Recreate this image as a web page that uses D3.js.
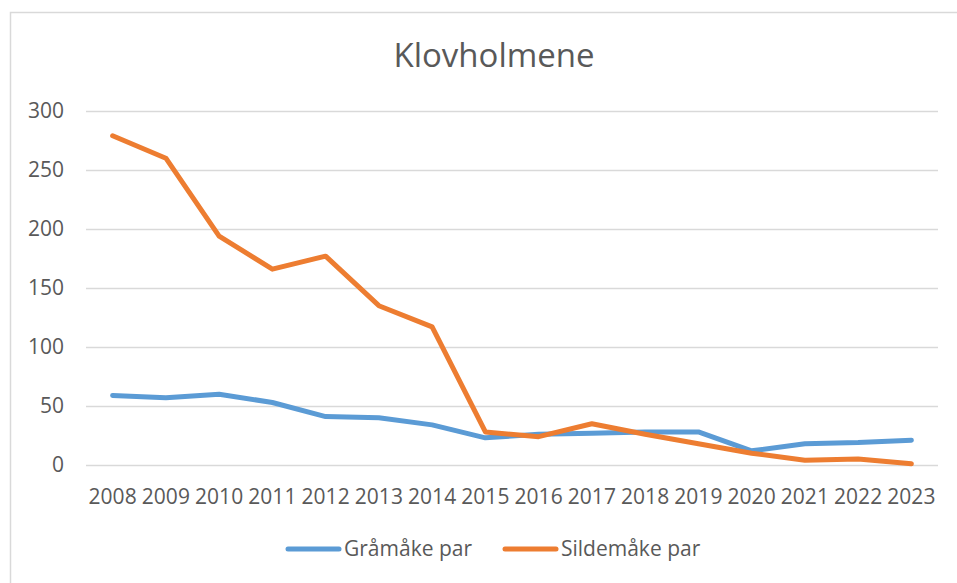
<!DOCTYPE html>
<html>
<head>
<meta charset="utf-8">
<script src="https://cdn.jsdelivr.net/npm/d3@7"></script>
<style>
  body { margin: 0; background: #fff; }
  svg { display: block; font-family: "Open Sans", sans-serif; }
</style>
</head>
<body>
<div id="chart"></div>
<script>
const years = ["2008", "2009", "2010", "2011", "2012", "2013", "2014", "2015",
    "2016", "2017", "2018", "2019", "2020", "2021", "2022", "2023"];
const graamaake = [59, 57, 60, 53, 41, 40, 34, 23, 26, 27, 28, 28, 12, 18, 19, 21];
const sildemaake = [279, 260, 194, 166, 177, 135, 117, 28, 24, 35, 26, 18, 10, 4, 5, 1];
const yTicks = [0, 50, 100, 150, 200, 250, 300];
const seriesNames = ["Gråmåke par", "Sildemåke par"];

const W = 957, H = 583;
const plotLeft = 86, plotRight = 938, plotTop = 111, plotBottom = 465;
const textColor = "#595959";
const gridColor = "#d9d9d9";
const colors = ["#5b9bd5", "#ed7d31"];
const labelSize = "21px";

const svg = d3.select("#chart")
    .append("svg")
    .attr("width", W)
    .attr("height", H);

// chart frame (right and bottom edges run off the page)
svg.append("rect")
    .attr("x", 10.5)
    .attr("y", 12.5)
    .attr("width", 960)
    .attr("height", 590)
    .attr("fill", "none")
    .attr("stroke", gridColor)
    .attr("stroke-width", 1.5);

svg.append("text")
    .attr("x", 494)
    .attr("y", 67)
    .attr("text-anchor", "middle")
    .style("font-size", "33px")
    .style("fill", textColor)
    .text("Klovholmene");

const x = d3.scaleBand()
    .domain(years)
    .range([plotLeft, plotRight])
    .padding(0);

const y = d3.scaleLinear()
    .domain([0, 300])
    .range([plotBottom, plotTop]);

// gridlines
svg.append("g")
    .attr("transform", `translate(${plotLeft},0)`)
    .call(d3.axisLeft(y).tickValues(yTicks).tickSize(-(plotRight - plotLeft)).tickFormat(""))
    .call(g => g.select(".domain").remove())
    .call(g => g.selectAll("line").attr("stroke", gridColor).attr("stroke-width", 1.5));

// y labels
svg.append("g")
    .attr("transform", `translate(${plotLeft},0)`)
    .call(d3.axisLeft(y).tickValues(yTicks).tickSize(0).tickPadding(22))
    .call(g => g.select(".domain").remove())
    .call(g => g.selectAll("text")
        .style("font-size", labelSize)
        .style("font-family", "'Open Sans', sans-serif")
        .attr("fill", textColor));

// x labels
svg.append("g")
    .attr("transform", `translate(0,${plotBottom})`)
    .call(d3.axisBottom(x).tickSize(0).tickPadding(24))
    .call(g => g.select(".domain").remove())
    .call(g => g.selectAll("text")
        .style("font-size", labelSize)
        .style("font-family", "'Open Sans', sans-serif")
        .attr("fill", textColor));

const line = d3.line()
    .x((d, i) => x(years[i]) + x.bandwidth() / 2)
    .y(d => y(d));

[graamaake, sildemaake].forEach((values, i) => {
    svg.append("path")
        .datum(values)
        .attr("d", line)
        .attr("fill", "none")
        .attr("stroke", colors[i])
        .attr("stroke-width", 5)
        .attr("stroke-linejoin", "round")
        .attr("stroke-linecap", "round");
});

// legend
const legendX = [286, 503];
const legend = svg.append("g")
    .selectAll("g")
    .data(seriesNames)
    .join("g")
    .attr("transform", (d, i) => `translate(${legendX[i]},549)`);

legend.append("line")
    .attr("x1", 2)
    .attr("x2", 53)
    .attr("stroke", (d, i) => colors[i])
    .attr("stroke-width", 5)
    .attr("stroke-linecap", "round");

legend.append("text")
    .attr("x", 58)
    .attr("dy", "0.35em")
    .style("font-size", labelSize)
    .style("fill", textColor)
    .text(d => d);
</script>
</body>
</html>
